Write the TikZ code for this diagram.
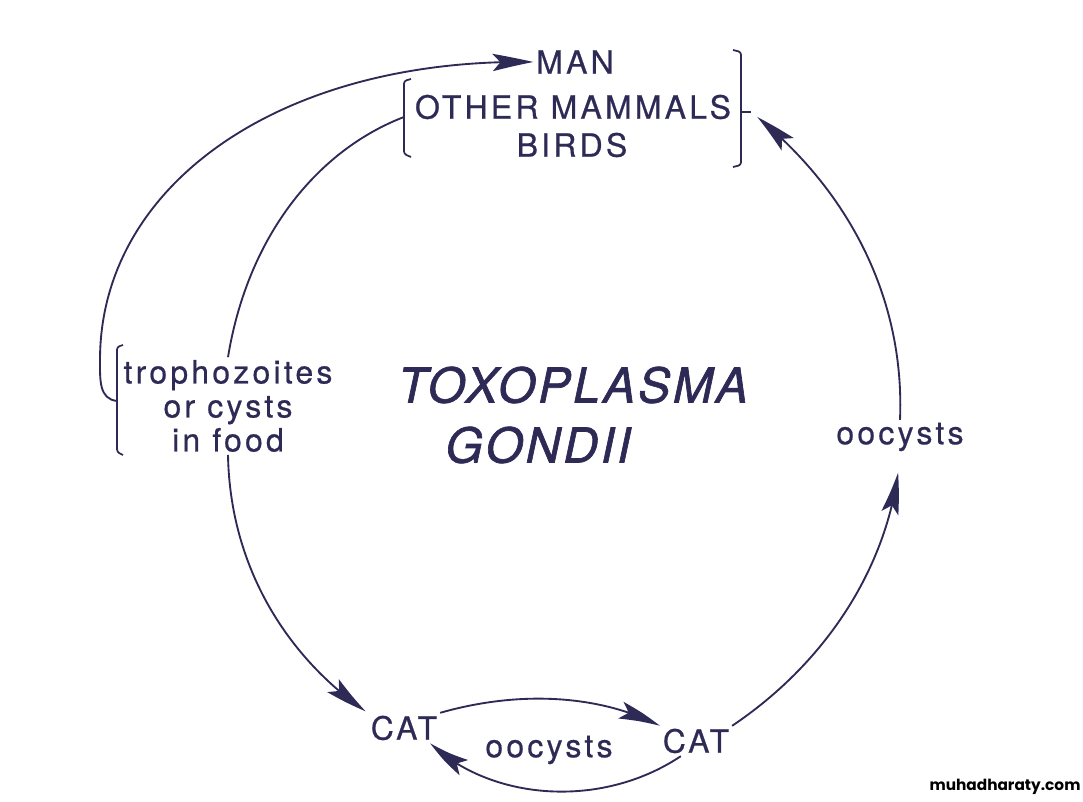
\documentclass[tikz,border=0pt]{standalone}
\usepackage{fontspec}
\usetikzlibrary{arrows.meta,bending}
\newfontfamily\stagefont[LetterSpace=10,FakeBold=0.6]{TeX Gyre Heros}
\newfontfamily\namefont[LetterSpace=6,FakeBold=1.4]{TeX Gyre Heros}
\newfontfamily\markfont{Poppins}
\definecolor{ink}{RGB}{46,42,86}

\begin{document}
\begin{tikzpicture}[x=0.75pt,y=-0.75pt]
			\tikzstyle{stage}=[text=ink,inner sep=2pt,font=\stagefont\fontsize{24}{25.5}\selectfont]
			\tikzstyle{species}=[text=ink,inner sep=2pt,font=\namefont\itshape\fontsize{36}{40}\selectfont]
			\tikzstyle{cycle}=[draw=ink,line width=1.4pt,-{Stealth[length=31pt,width=13pt,inset=6pt,bend]}]
			\tikzstyle{brace}=[draw=ink,line width=1.3pt,rounded corners=2pt]
			\useasboundingbox (0,0) rectangle (1083,802);
			
			\node[stage] (man) at (575,62) {MAN};
			\node[stage] (mammals) at (573,107) {OTHER MAMMALS};
			\node[stage] (birds) at (572,145) {BIRDS};
			\node[stage,align=center] (food) at (228,406) {trophozoites\\or cysts\\in food};
			\node[species] (toxo) at (573,385) {TOXOPLASMA};
			\node[species] (gondii) at (538,445) {GONDII};
			\node[stage] (oocystsR) at (900,437) {oocysts};
			\node[stage] (catL) at (404,728) {CAT};
			\node[stage] (catR) at (696,741) {CAT};
			\node[stage] (oocystsB) at (549,750) {oocysts};
			\node[text=black,font=\markfont\bfseries\fontsize{11.5}{13}\selectfont] (mark) at (1005,787) {muhadharaty.com};
			
			\draw[brace] (411,79) -- (404,81) -- (404,154) -- (411,157);
			\draw[brace] (733,50) -- (741,52) -- (741,165) -- (733,167);
			\draw[brace] (123,345) -- (117,347) -- (117,452) -- (123,455);
			\coordinate (hostjoin) at (404,117);
			\coordinate (hosttick) at (751,112);
			\coordinate (foodjoin) at (117,401);
			\draw[brace] (741,112) -- (hosttick);
			
			\draw[cycle] (foodjoin) .. controls (99,399) and (100,380) .. (100,360) .. controls (100,185) and (280,58) .. (man.west);
			\draw[draw=ink,line width=1.4pt] (food.north) .. controls (248,235) and (318,150) .. (hostjoin);
			\draw[cycle,shorten >=2pt] (food.south) .. controls (230,570) and (290,660) .. (catL.north west);
			\draw[cycle] (catL.north east) .. controls (520,690) and (600,695) .. (catR.north west);
			\draw[cycle] (catR.-135) .. controls (600,810) and (490,800) .. (catL.-30);
			\draw[cycle,shorten >=14pt] (catR.north east) .. controls (830,660) and (892,560) .. (oocystsR.south);
			\draw[cycle,shorten >=6pt] (oocystsR.north) .. controls (905,300) and (850,190) .. (hosttick);
			
		\end{tikzpicture}
\end{document}
